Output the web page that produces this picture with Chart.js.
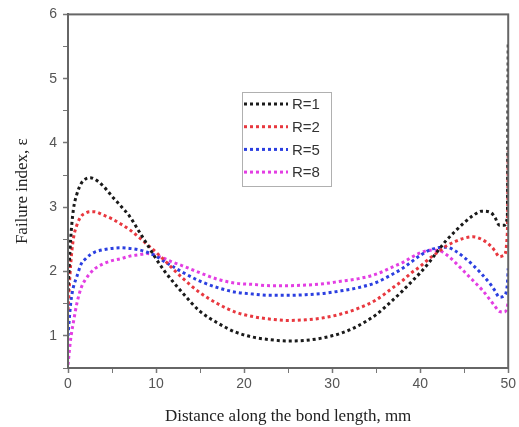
<!DOCTYPE html>
<html>
<head>
<meta charset="utf-8">
<script src="https://cdn.jsdelivr.net/npm/chart.js@4/dist/chart.umd.min.js"></script>
<style>
html,body{margin:0;padding:0;background:#fff;}
#wrap{width:519px;height:427px;position:relative;}
</style>
</head>
<body>
<div id="wrap"><canvas id="c" width="519" height="427"></canvas></div>
<script>
const distance = [0, 0.3, 0.6, 1, 1.5, 2, 2.5, 3, 4, 5, 6, 7, 8, 9, 10, 11, 12, 13, 15, 17, 19, 21, 23, 25, 27, 29, 31, 33, 35, 37, 38, 39, 40, 41, 42, 43, 44, 45, 46, 47, 48, 48.5, 49, 49.5, 49.9, 50];
const seriesR1 = [1.7, 2.5, 2.95, 3.2, 3.37, 3.44, 3.46, 3.44, 3.33, 3.17, 3.02, 2.86, 2.64, 2.42, 2.2, 2.0, 1.83, 1.67, 1.38, 1.2, 1.06, 0.98, 0.94, 0.92, 0.93, 0.97, 1.04, 1.16, 1.33, 1.57, 1.7, 1.84, 1.98, 2.14, 2.32, 2.49, 2.63, 2.76, 2.87, 2.94, 2.92, 2.84, 2.72, 2.72, 2.85, 5.55];
const seriesR2 = [1.4, 2.1, 2.5, 2.72, 2.86, 2.91, 2.93, 2.93, 2.88, 2.82, 2.74, 2.65, 2.54, 2.42, 2.3, 2.17, 2.03, 1.9, 1.67, 1.5, 1.37, 1.3, 1.26, 1.24, 1.25, 1.28, 1.34, 1.43, 1.56, 1.76, 1.86, 1.98, 2.08, 2.2, 2.3, 2.4, 2.47, 2.52, 2.54, 2.5, 2.4, 2.32, 2.23, 2.25, 2.6, 3.88];
const seriesR5 = [1.0, 1.5, 1.75, 1.92, 2.12, 2.2, 2.26, 2.3, 2.34, 2.36, 2.37, 2.36, 2.34, 2.3, 2.24, 2.15, 2.07, 1.99, 1.85, 1.75, 1.68, 1.65, 1.63, 1.63, 1.64, 1.66, 1.7, 1.75, 1.83, 1.97, 2.05, 2.15, 2.25, 2.33, 2.37, 2.38, 2.32, 2.22, 2.1, 1.96, 1.8, 1.7, 1.6, 1.62, 1.8, 2.05];
const seriesR8 = [0.55, 0.95, 1.2, 1.5, 1.75, 1.88, 1.97, 2.04, 2.12, 2.17, 2.2, 2.24, 2.26, 2.28, 2.25, 2.2, 2.14, 2.09, 1.98, 1.88, 1.82, 1.8, 1.78, 1.78, 1.79, 1.81, 1.85, 1.89, 1.96, 2.08, 2.14, 2.22, 2.29, 2.33, 2.33, 2.26, 2.14, 2.0, 1.86, 1.72, 1.55, 1.46, 1.38, 1.37, 1.45, 1.55];
const seriesLabels = ["R=1", "R=2", "R=5", "R=8"];
const xTickLabels = [0, 10, 20, 30, 40, 50];
const yTickLabels = [1, 2, 3, 4, 5, 6];

function pts(vals){ return distance.map((x,i)=>({x:x, y:vals[i]})); }
const colors = ["#1a1a1a", "#e8383f", "#2b3fe0", "#e33ee3"];
const allSeries = [seriesR1, seriesR2, seriesR5, seriesR8];

const datasets = allSeries.map((s,i)=>({
  label: seriesLabels[i],
  data: pts(s),
  borderColor: colors[i],
  backgroundColor: colors[i],
  borderWidth: 3,
  borderDash: [3,3],
  pointRadius: 0,
  cubicInterpolationMode: 'monotone',
  fill: false
}));

const framePlugin = {
  id: 'frame',
  afterDatasetsDraw(chart){
    const a = chart.chartArea, ctx = chart.ctx;
    ctx.save();
    ctx.strokeStyle = '#666';
    ctx.lineWidth = 2;
    ctx.strokeRect(a.left, a.top, a.right - a.left, a.bottom - a.top);
    ctx.restore();
  }
};

const legendPlugin = {
  id: 'boxLegend',
  afterDraw(chart){
    const ctx = chart.ctx;
    const bx = 242, by = 92, bw = 89, bh = 94;
    ctx.save();
    ctx.strokeStyle = '#b0b0b0';
    ctx.lineWidth = 1;
    ctx.strokeRect(bx + 0.5, by + 0.5, bw, bh);
    ctx.font = '15px "Liberation Sans", Arial, sans-serif';
    ctx.textBaseline = 'middle';
    chart.data.datasets.forEach((ds, i) => {
      const y = by + 12 + i * 22.7;
      ctx.strokeStyle = ds.borderColor;
      ctx.lineWidth = 3;
      ctx.setLineDash([3,3]);
      ctx.beginPath();
      ctx.moveTo(bx + 2, y);
      ctx.lineTo(bx + 46, y);
      ctx.stroke();
      ctx.setLineDash([]);
      ctx.fillStyle = '#333';
      ctx.fillText(ds.label, bx + 50, y + 1);
    });
    ctx.restore();
  }
};

new Chart(document.getElementById('c'), {
  type: 'line',
  data: { datasets },
  plugins: [framePlugin, legendPlugin],
  options: {
    responsive: false,
    animation: false,
    layout: { padding: { top: 10, right: 9, left: 0, bottom: 0 } },
    plugins: { legend: { display: false }, tooltip: { enabled: false } },
    scales: {
      x: {
        type: 'linear',
        min: 0, max: 50,
        afterBuildTicks(scale){
          const t = [];
          for (let v = 0; v <= 50; v += 5) t.push({value: v});
          scale.ticks = t;
        },
        afterFit(scale){ scale.height = 59; },
        ticks: {
          autoSkip: false,
          maxRotation: 0,
          padding: 3,
          color: '#555',
          font: { family: '"Liberation Sans", Arial, sans-serif', size: 14 },
          callback: (v) => xTickLabels.includes(v) ? String(v) : ''
        },
        grid: {
          drawOnChartArea: false,
          drawTicks: true,
          tickLength: 5,
          tickColor: '#777',
          tickWidth: (c) => (c.tick && xTickLabels.includes(c.tick.value)) ? 1.5 : 1
        },
        border: { display: true, color: '#666', width: 2 },
        title: {
          display: true,
          text: 'Distance along the bond length, mm',
          color: '#222',
          font: { family: '"Liberation Serif", "Times New Roman", serif', size: 17 },
          padding: { top: 4, bottom: 0 }
        }
      },
      y: {
        type: 'linear',
        min: 0.5, max: 6,
        afterBuildTicks(scale){
          const t = [];
          for (let v = 0.5; v <= 6.001; v += 0.5) t.push({value: Math.round(v*10)/10});
          scale.ticks = t;
        },
        afterFit(scale){ scale.width = 68; },
        ticks: {
          autoSkip: false,
          padding: 6,
          color: '#555',
          font: { family: '"Liberation Sans", Arial, sans-serif', size: 14 },
          callback: (v) => yTickLabels.includes(v) ? String(v) : ''
        },
        grid: {
          drawOnChartArea: false,
          drawTicks: true,
          tickLength: 5,
          tickColor: '#777',
          tickWidth: (c) => (c.tick && yTickLabels.includes(c.tick.value)) ? 1.5 : 1
        },
        border: { display: true, color: '#666', width: 2 },
        title: {
          display: true,
          text: 'Failure index, ε',
          color: '#222',
          font: { family: '"Liberation Serif", "Times New Roman", serif', size: 17 },
          padding: { top: 12, bottom: 4 }
        }
      }
    }
  }
});
</script>
</body>
</html>
